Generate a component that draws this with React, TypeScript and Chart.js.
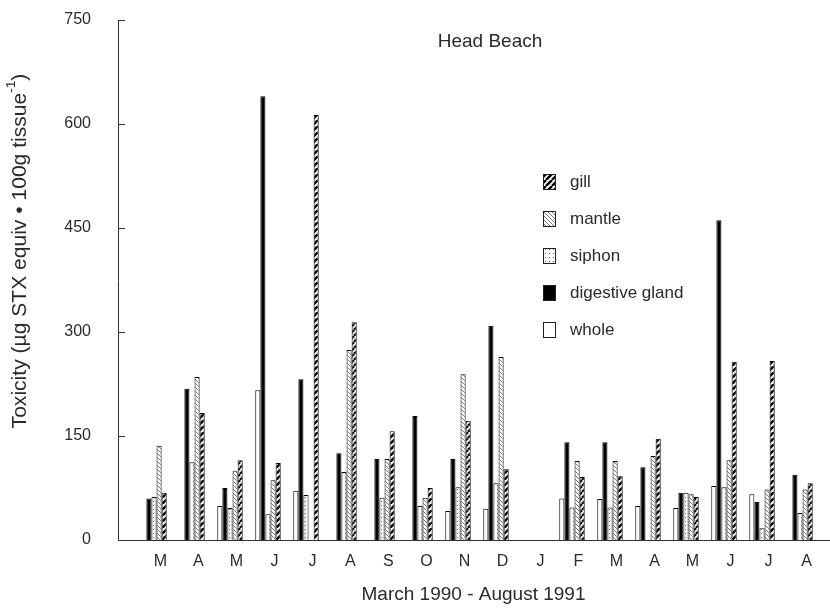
import { useEffect, useRef } from 'react';
import { Chart, registerables } from 'chart.js';

Chart.register(...registerables);

const months = ['M', 'A', 'M', 'J', 'J', 'A', 'S', 'O', 'N', 'D', 'J', 'F', 'M', 'A', 'M', 'J', 'J', 'A'];
const yTickValues = [0, 150, 300, 450, 600, 750];
const seriesNames = ['whole', 'digestive gland', 'siphon', 'mantle', 'gill'];

const whole = [null, null, 49, 216, 71, null, null, null, 42, 45, null, 60, 59, 49, 46, 78, 66, null];
const digestive = [60, 218, 75, 640, 232, 125, 117, 179, 117, 309, null, 141, 141, 105, 68, 461, 55, 94];
const siphon = [62, 112, 46, 37, 65, 98, 61, 49, 76, 82, null, 47, 47, null, 68, 76, 17, 39];
const mantle = [136, 235, 99, 86, null, 274, 117, 61, 239, 264, null, 114, 114, 121, 66, 115, 73, 73];
const gill = [68, 183, 115, 111, 613, 314, 157, 75, 172, 102, null, 91, 92, 146, 62, 257, 258, 82];

const FONT = '"Liberation Sans", Arial, Helvetica, sans-serif';
const TEXT = '#2a2a2a';

function makePattern(kind: string): CanvasPattern | string {
  const c = document.createElement('canvas');
  const g = c.getContext('2d');
  if (!g) return '#fff';
  if (kind === 'gill') {
    c.width = 6; c.height = 6;
    g.fillStyle = '#fff'; g.fillRect(0, 0, 6, 6);
    g.strokeStyle = '#000'; g.lineWidth = 2.5;
    for (const o of [-6, 0, 6]) { g.beginPath(); g.moveTo(o, 6); g.lineTo(o + 6, 0); g.stroke(); }
  } else if (kind === 'mantle') {
    c.width = 4; c.height = 4;
    g.fillStyle = '#fff'; g.fillRect(0, 0, 4, 4);
    g.strokeStyle = '#555'; g.lineWidth = 0.8;
    for (const o of [-4, 0, 4]) { g.beginPath(); g.moveTo(o, 0); g.lineTo(o + 4, 4); g.stroke(); }
  } else if (kind === 'siphon') {
    c.width = 4; c.height = 4;
    g.fillStyle = '#fff'; g.fillRect(0, 0, 4, 4);
    g.fillStyle = '#666'; g.fillRect(1, 1, 1, 1);
  }
  return g.createPattern(c, 'repeat') || '#fff';
}

const toPoints = (arr: (number | null)[]) =>
  arr.map((v, i) => ({ x: i, y: v })).filter((p) => p.y !== null) as { x: number; y: number }[];

export default function App() {
  const ref = useRef<HTMLCanvasElement | null>(null);

  useEffect(() => {
    if (!ref.current) return;
    const fills: (CanvasPattern | string)[] = ['#ffffff', '#000000', makePattern('siphon'), makePattern('mantle'), makePattern('gill')];
    const values = [whole, digestive, siphon, mantle, gill];

    const overlay = {
      id: 'overlay',
      afterDraw(chart: any) {
        const ctx = chart.ctx as CanvasRenderingContext2D;
        const ys = chart.scales.y;
        const area = chart.chartArea;
        ctx.save();
        // inward tick marks
        ctx.strokeStyle = '#333';
        ctx.lineWidth = 1;
        yTickValues.forEach((v) => {
          if (v === 0) return;
          const py = Math.round(ys.getPixelForValue(v)) + 0.5;
          ctx.beginPath();
          ctx.moveTo(area.left, py);
          ctx.lineTo(area.left + 7, py);
          ctx.stroke();
        });
        // chart title
        ctx.fillStyle = TEXT;
        ctx.font = `19px ${FONT}`;
        ctx.textAlign = 'center';
        ctx.textBaseline = 'middle';
        ctx.fillText('Head Beach', 490, 42);
        // y title
        const main = 'Toxicity (\u00b5g STX equiv \u2022 100g tissue';
        const sup = '-1';
        const close = ')';
        ctx.font = `16px ${FONT}`;
        const base = ctx.measureText(main).width + ctx.measureText(close).width + ctx.measureText(sup).width * 0.65;
        const size = 16 * 355 / base;
        ctx.font = `${size}px ${FONT}`;
        const wMain = ctx.measureText(main).width;
        const wClose = ctx.measureText(close).width;
        ctx.font = `${size * 0.65}px ${FONT}`;
        const wSup = ctx.measureText(sup).width;
        const total = wMain + wSup + wClose;
        ctx.translate(20, 251);
        ctx.rotate(-Math.PI / 2);
        ctx.textAlign = 'left';
        ctx.font = `${size}px ${FONT}`;
        ctx.fillText(main, -total / 2, 0);
        ctx.font = `${size * 0.65}px ${FONT}`;
        ctx.fillText(sup, -total / 2 + wMain, -size * 0.4);
        ctx.font = `${size}px ${FONT}`;
        ctx.fillText(close, -total / 2 + wMain + wSup, 0);
        ctx.restore();
        // legend
        ctx.save();
        const ds = chart.data.datasets;
        ctx.font = `17px ${FONT}`;
        ctx.textBaseline = 'middle';
        ctx.textAlign = 'left';
        for (let k = 0; k < ds.length; k++) {
          const d = ds[ds.length - 1 - k];
          const cy = 182 + k * 37;
          ctx.fillStyle = d.backgroundColor;
          ctx.fillRect(543.5, cy - 7.5, 12, 15);
          ctx.strokeStyle = '#222';
          ctx.lineWidth = 1;
          ctx.strokeRect(543.5, cy - 7.5, 12, 15);
          ctx.fillStyle = TEXT;
          ctx.fillText(d.label, 570, cy);
        }
        ctx.restore();
      },
    };

    const chart = new Chart(ref.current, {
      type: 'bar',
      data: {
        datasets: values.map((arr, i) => ({
          label: seriesNames[i],
          data: toPoints(arr),
          backgroundColor: fills[i],
          borderColor: '#000',
          borderWidth: 1,
          categoryPercentage: 0.67,
          barPercentage: 1,
        })),
      },
      options: {
        animation: false,
        responsive: false,
        layout: { padding: { left: 0, right: 1, top: 20, bottom: 0 } },
        plugins: { legend: { display: false }, tooltip: { enabled: false }, title: { display: false } },
        scales: {
          x: {
            type: 'linear',
            offset: false,
            min: -0.947,
            max: 17.763,
            grid: { display: false, drawTicks: false, offset: false },
            border: { display: true, color: '#333', width: 1 },
            afterBuildTicks: (axis: any) => {
              axis.ticks = months.map((_, i) => ({ value: i + 0.17 }));
            },
            afterFit: (s: any) => { s.height = 73; },
            ticks: {
              autoSkip: false,
              maxRotation: 0,
              padding: 12,
              color: TEXT,
              font: { family: FONT, size: 16 },
              callback: (_v: any, i: number) => months[i],
            },
            title: {
              display: true,
              text: 'March 1990 - August 1991',
              color: TEXT,
              font: { family: FONT, size: 19 },
              padding: { top: 0, bottom: 7 },
            },
          },
          y: {
            min: 0,
            max: 750,
            grid: { display: false, drawTicks: true, tickLength: 27 },
            border: { display: true, color: '#333', width: 1 },
            afterBuildTicks: (axis: any) => {
              axis.ticks = yTickValues.map((v) => ({ value: v }));
            },
            afterFit: (s: any) => { s.width = 118; },
            ticks: {
              padding: 0,
              color: TEXT,
              font: { family: FONT, size: 16 },
            },
          },
        },
      },
      plugins: [overlay],
    } as any);
    return () => chart.destroy();
  }, []);

  return (
    <div style={{ position: 'absolute', left: 0, top: 0, width: 830, height: 613, background: '#fff' }}>
      <canvas ref={ref} width={830} height={613} style={{ display: 'block' }} />
    </div>
  );
}
